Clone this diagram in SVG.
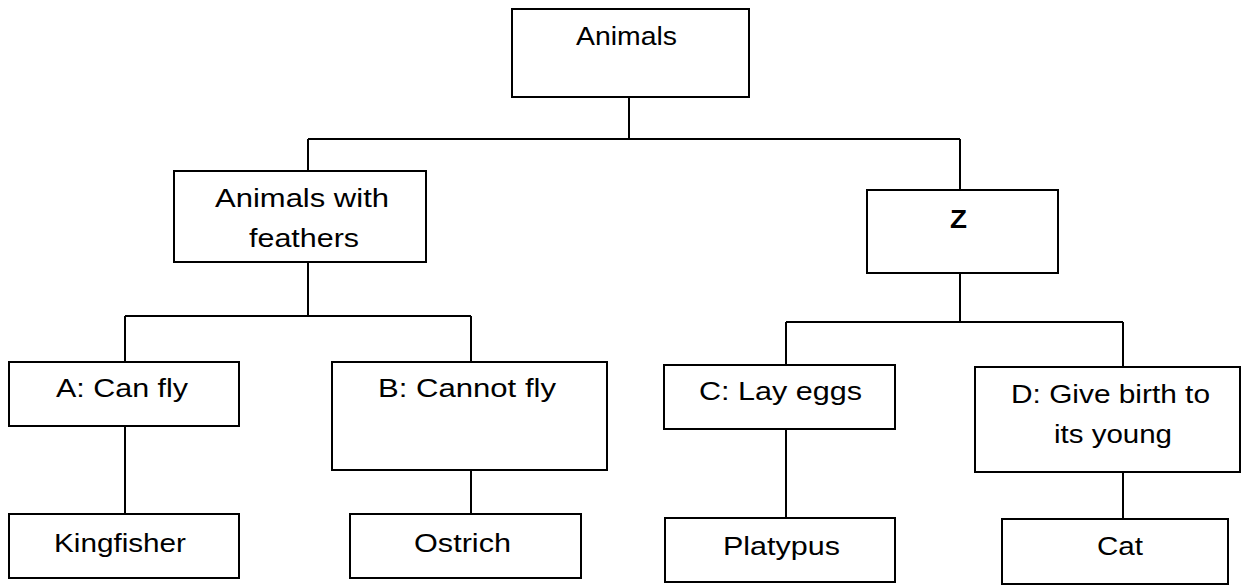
<svg xmlns="http://www.w3.org/2000/svg" width="1241" height="585" viewBox="0 0 1241 585">
<style>
.box{fill:#fff;stroke:#000;stroke-width:2}
.ln{fill:none;stroke:#000;stroke-width:2}
text{font-family:"Liberation Sans",Arial,sans-serif;font-size:25px;fill:#000}
</style>
<rect width="1241" height="585" fill="#fff"/>
<g id="connectors">
<path class="ln" d="M629,97 V139 M308,139 H960 M308,139 V171 M960,139 V190"/>
<path class="ln" d="M308,262 V316 M125,316 H471 M125,316 V362 M471,316 V362"/>
<path class="ln" d="M125,425 V514 M471,470 V514"/>
<path class="ln" d="M960,273 V322 M786,322 H1123 M786,322 V365 M1123,322 V367"/>
<path class="ln" d="M786,429 V518 M1123,472 V519"/>
</g>
<g id="animals"><rect class="box" x="512" y="9" width="237" height="88"/><text x="576" y="45" textLength="101" lengthAdjust="spacingAndGlyphs">Animals</text></g>
<g id="feathers"><rect class="box" x="174" y="171" width="252" height="91"/><text x="215" y="207" textLength="174" lengthAdjust="spacingAndGlyphs">Animals with</text><text x="249" y="247" textLength="110" lengthAdjust="spacingAndGlyphs">feathers</text></g>
<g id="z"><rect class="box" x="867" y="190" width="191" height="83"/><text x="950" y="228" textLength="17" lengthAdjust="spacingAndGlyphs" font-weight="bold">Z</text></g>
<g id="a"><rect class="box" x="9" y="362" width="230" height="64"/><text x="56" y="397" textLength="132" lengthAdjust="spacingAndGlyphs">A: Can fly</text></g>
<g id="b"><rect class="box" x="332" y="362" width="275" height="108"/><text x="378" y="397" textLength="178" lengthAdjust="spacingAndGlyphs">B: Cannot fly</text></g>
<g id="kingfisher"><rect class="box" x="9" y="514" width="230" height="64"/><text x="54" y="552" textLength="132" lengthAdjust="spacingAndGlyphs">Kingfisher</text></g>
<g id="ostrich"><rect class="box" x="350" y="514" width="231" height="64"/><text x="414" y="552" textLength="97" lengthAdjust="spacingAndGlyphs">Ostrich</text></g>
<g id="c"><rect class="box" x="664" y="365" width="231" height="64"/><text x="699" y="400" textLength="163" lengthAdjust="spacingAndGlyphs">C: Lay eggs</text></g>
<g id="d"><rect class="box" x="975" y="367" width="265" height="105"/><text x="1011" y="403" textLength="199" lengthAdjust="spacingAndGlyphs">D: Give birth to</text><text x="1054" y="443" textLength="118" lengthAdjust="spacingAndGlyphs">its young</text></g>
<g id="platypus"><rect class="box" x="665" y="518" width="230" height="64"/><text x="723" y="555" textLength="117" lengthAdjust="spacingAndGlyphs">Platypus</text></g>
<g id="cat"><rect class="box" x="1002" y="519" width="226" height="65"/><text x="1097" y="555" textLength="46" lengthAdjust="spacingAndGlyphs">Cat</text></g>
</svg>
